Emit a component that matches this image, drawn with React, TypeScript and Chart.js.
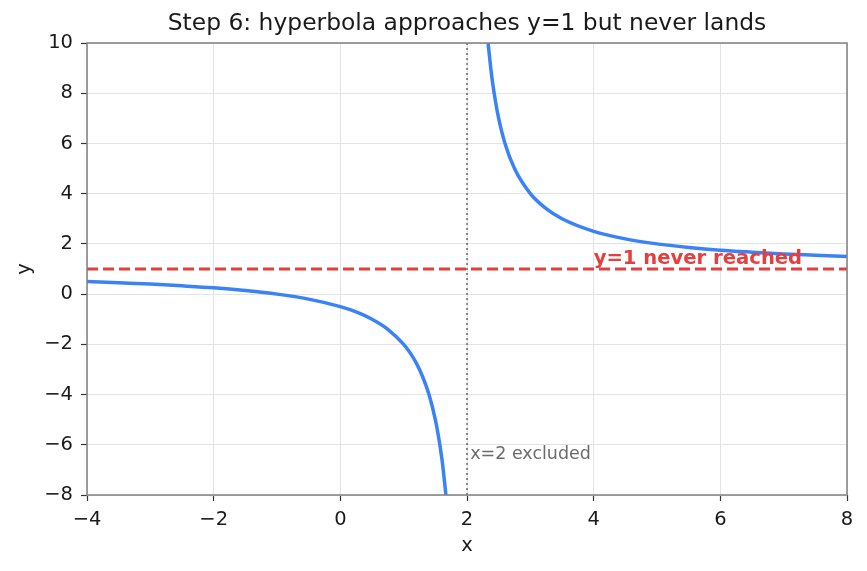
import React, { useEffect, useRef } from "react";
import { Chart, registerables } from "chart.js";

Chart.register(...registerables);

// Values
const leftX = [-4, -3.5, -3, -2.5, -2, -1.5, -1, -0.5, 0, 0.25, 0.5, 0.75, 1, 1.1, 1.2, 1.3, 1.4, 1.5, 1.55, 1.6, 1.625, 1.667];
const leftY = [0.5, 0.45, 0.4, 0.33, 0.25, 0.14, 0, -0.2, -0.5, -0.71, -1, -1.4, -2, -2.33, -2.75, -3.29, -4, -5, -5.67, -6.5, -7, -8];
const rightX = [2.333, 2.375, 2.4, 2.45, 2.5, 2.6, 2.75, 3, 3.25, 3.5, 4, 4.5, 5, 5.5, 6, 6.5, 7, 7.5, 8];
const rightY = [10, 9, 8.5, 7.67, 7, 6, 5, 4, 3.4, 3, 2.5, 2.2, 2, 1.86, 1.75, 1.67, 1.6, 1.55, 1.5];
const asymptoteY = 1;
const excludedX = 2;
const xTicks = [-4, -2, 0, 2, 4, 6, 8];
const yTicks = [-8, -6, -4, -2, 0, 2, 4, 6, 8, 10];
const titleText = "Step 6: hyperbola approaches y=1 but never lands";
const hLabel = "y=1 never reached";
const hLabelPos = { x: 4, y: 1.2 };
const vLabel = "x=2 excluded";
const vLabelPos = { x: 2.05, y: -6.55 };

const FONT = "'DejaVu Sans', sans-serif";

export default function App() {
  const ref = useRef<HTMLCanvasElement | null>(null);
  useEffect(() => {
    document.body.style.margin = "0";
    const curve = [
      ...leftX.map((x, i) => ({ x, y: leftY[i] })),
      { x: 2, y: null as any },
      ...rightX.map((x, i) => ({ x, y: rightY[i] })),
    ];
    const framePlugin = {
      id: "frame",
      afterDraw(chart: any) {
        const { ctx, chartArea: a, scales } = chart;
        ctx.save();
        ctx.strokeStyle = "#808080";
        ctx.lineWidth = 1.5;
        ctx.strokeRect(a.left, a.top, a.right - a.left, a.bottom - a.top);
        ctx.fillStyle = "#1a1a1a";
        ctx.font = `23.4px ${FONT}`;
        ctx.textAlign = "center";
        ctx.textBaseline = "middle";
        ctx.fillText(titleText, (a.left + a.right) / 2, 24);
        ctx.font = `19.5px ${FONT}`;
        ctx.fillText("x", (a.left + a.right) / 2, 546);
        ctx.save();
        ctx.translate(25, (a.top + a.bottom) / 2);
        ctx.rotate(-Math.PI / 2);
        ctx.fillText("y", 0, 0);
        ctx.restore();
        ctx.textAlign = "left";
        ctx.textBaseline = "alphabetic";
        ctx.font = `bold 19.6px ${FONT}`;
        ctx.fillStyle = "#e53e3e";
        ctx.fillText(hLabel, scales.x.getPixelForValue(hLabelPos.x), scales.y.getPixelForValue(hLabelPos.y));
        ctx.font = `17.5px ${FONT}`;
        ctx.fillStyle = "#6b6b6b";
        ctx.fillText(vLabel, scales.x.getPixelForValue(vLabelPos.x), scales.y.getPixelForValue(vLabelPos.y));
        ctx.restore();
      },
    };
    const fmt = (v: any) => String(v).replace("-", "\u2212");
    const chart = new Chart(ref.current!, {
      type: "line",
      data: {
        datasets: [
          {
            data: curve,
            borderColor: "#3b82f6",
            borderWidth: 3.5,
            pointRadius: 0,
            cubicInterpolationMode: "monotone",
            spanGaps: false,
            order: 3,
          } as any,
          {
            data: [{ x: -4, y: asymptoteY }, { x: 8, y: asymptoteY }],
            borderColor: "#e53e3e",
            borderWidth: 2.8,
            borderDash: [11, 5],
            pointRadius: 0,
            order: 2,
          },
          {
            data: [{ x: excludedX, y: -8 }, { x: excludedX, y: 10 }],
            borderColor: "#666666",
            borderWidth: 1.5,
            borderDash: [2, 3],
            pointRadius: 0,
            order: 1,
          },
        ],
      },
      options: {
        animation: false,
        responsive: false,
        layout: { padding: { top: 43, right: 20, left: 0, bottom: 0 } },
        plugins: { legend: { display: false }, tooltip: { enabled: false }, title: { display: false } },
        scales: {
          x: {
            type: "linear",
            min: -4,
            max: 8,
            afterFit: (s: any) => { s.height = 76; },
            afterBuildTicks: (s: any) => { s.ticks = xTicks.map((v) => ({ value: v })); },
            grid: { color: "#e3e3e3", lineWidth: 1, tickColor: "#333333", tickLength: 6, tickWidth: 1.2 },
            border: { display: false },
            ticks: { color: "#1a1a1a", font: { family: FONT, size: 19.5 }, padding: 7, maxRotation: 0, callback: fmt },
          },
          y: {
            type: "linear",
            min: -8,
            max: 10,
            afterFit: (s: any) => { s.width = 87; },
            afterBuildTicks: (s: any) => { s.ticks = yTicks.map((v) => ({ value: v })); },
            grid: { color: "#e3e3e3", lineWidth: 1, tickColor: "#333333", tickLength: 6, tickWidth: 1.2 },
            border: { display: false },
            ticks: { color: "#1a1a1a", font: { family: FONT, size: 19.5 }, padding: 8, callback: fmt },
          },
        },
      } as any,
      plugins: [framePlugin],
    });
    return () => chart.destroy();
  }, []);
  return (
    <div style={{ position: "absolute", left: 0, top: 0, width: 867, height: 571, background: "#fff" }}>
      <canvas ref={ref} width={867} height={571} style={{ width: 867, height: 571 }} />
    </div>
  );
}
